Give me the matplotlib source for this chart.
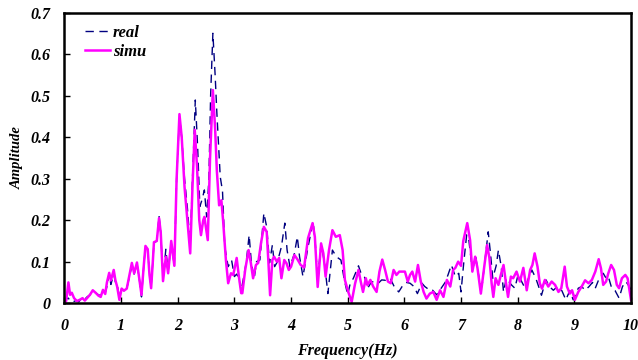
import matplotlib
matplotlib.use("Agg")
import matplotlib.pyplot as plt

# ---- data ----
freq_real = [0.00, 0.03, 0.07, 0.10, 0.15, 0.20, 0.25, 0.30, 0.35, 0.40, 0.45, 0.50, 0.55, 0.60, 0.64,
             0.68, 0.72, 0.76, 0.79, 0.82, 0.87, 0.90, 0.93, 0.97, 1.01, 1.05, 1.10, 1.15, 1.19, 1.23,
             1.28, 1.32, 1.36, 1.40, 1.43, 1.47, 1.50, 1.53, 1.56, 1.58, 1.63, 1.67, 1.70, 1.74, 1.79,
             1.83, 1.885, 1.94, 1.98, 2.03, 2.07, 2.12, 2.17, 2.22, 2.26, 2.31, 2.35, 2.39, 2.43, 2.47,
             2.51, 2.55, 2.58, 2.62, 2.66, 2.69, 2.75, 2.79, 2.83, 2.89, 2.95, 3.00, 3.04, 3.08, 3.12,
             3.16, 3.21, 3.26, 3.30, 3.35, 3.39, 3.45, 3.52, 3.57, 3.62, 3.67, 3.71, 3.76, 3.83, 3.89,
             3.93, 3.98, 4.06, 4.11, 4.15, 4.21, 4.30, 4.39, 4.43, 4.47, 4.53, 4.59, 4.65, 4.73, 4.80,
             4.88, 4.94, 5.00, 5.04, 5.10, 5.19, 5.24, 5.30, 5.35, 5.42, 5.48, 5.54, 5.60, 5.67, 5.75,
             5.82, 5.90, 5.96, 6.03, 6.10, 6.17, 6.23, 6.31, 6.36, 6.40, 6.45, 6.50, 6.57, 6.65, 6.72,
             6.77, 6.83, 6.90, 6.96, 7.00, 7.05, 7.10, 7.14, 7.20, 7.26, 7.32, 7.37, 7.42, 7.48, 7.52,
             7.56, 7.62, 7.66, 7.71, 7.75, 7.80, 7.89, 7.95, 8.01, 8.07, 8.13, 8.19, 8.25, 8.32, 8.37,
             8.42, 8.50, 8.56, 8.63, 8.70, 8.78, 8.85, 8.92, 8.98, 9.07, 9.13, 9.19, 9.26, 9.32, 9.37,
             9.44, 9.51, 9.56, 9.60, 9.66, 9.72, 9.79, 9.85, 9.91, 9.97, 10.0]
amp_real = [0.000, 0.010, 0.012, 0.005, 0.003, 0.006, 0.003, 0.010, 0.008, 0.015, 0.020, 0.030, 0.025, 0.020, 0.018,
            0.030, 0.025, 0.045, 0.070, 0.045, 0.070, 0.050, 0.045, 0.015, 0.035, 0.030, 0.035, 0.065, 0.090, 0.070,
            0.095, 0.060, 0.015, 0.090, 0.135, 0.130, 0.070, 0.040, 0.100, 0.145, 0.150, 0.210, 0.170, 0.060, 0.130,
            0.075, 0.145, 0.090, 0.300, 0.450, 0.400, 0.300, 0.230, 0.140, 0.300, 0.490, 0.380, 0.233, 0.250, 0.273,
            0.208, 0.300, 0.500, 0.651, 0.550, 0.460, 0.305, 0.270, 0.136, 0.088, 0.104, 0.064, 0.070, 0.060, 0.030,
            0.060, 0.100, 0.164, 0.097, 0.060, 0.100, 0.104, 0.217, 0.184, 0.097, 0.140, 0.088, 0.100, 0.136, 0.193,
            0.128, 0.088, 0.120, 0.160, 0.112, 0.064, 0.136, 0.196, 0.140, 0.056, 0.144, 0.097, 0.023, 0.128, 0.112,
            0.104, 0.056, 0.020, 0.045, 0.060, 0.090, 0.070, 0.062, 0.035, 0.052, 0.050, 0.048, 0.056, 0.055, 0.060,
            0.040, 0.027, 0.040, 0.050, 0.048, 0.040, 0.023, 0.048, 0.040, 0.036, 0.030, 0.031, 0.020, 0.036, 0.050,
            0.068, 0.092, 0.064, 0.072, 0.027, 0.100, 0.165, 0.150, 0.080, 0.110, 0.060, 0.040, 0.100, 0.172, 0.120,
            0.060, 0.090, 0.128, 0.088, 0.027, 0.060, 0.044, 0.036, 0.070, 0.052, 0.036, 0.060, 0.080, 0.060, 0.040,
            0.019, 0.056, 0.040, 0.031, 0.040, 0.030, 0.008, 0.030, 0.008, 0.036, 0.040, 0.031, 0.040, 0.050, 0.036,
            0.060, 0.072, 0.060, 0.064, 0.036, 0.030, 0.012, 0.040, 0.052, 0.040, 0.030]

freq_simu = [0.00, 0.03, 0.07, 0.10, 0.13, 0.17, 0.22, 0.27, 0.32, 0.36, 0.41, 0.45, 0.50, 0.55, 0.60,
             0.64, 0.68, 0.72, 0.75, 0.79, 0.82, 0.87, 0.90, 0.93, 0.97, 1.01, 1.05, 1.10, 1.15, 1.19,
             1.23, 1.28, 1.32, 1.36, 1.40, 1.43, 1.47, 1.50, 1.53, 1.56, 1.58, 1.63, 1.67, 1.70, 1.74,
             1.79, 1.83, 1.885, 1.94, 1.98, 2.03, 2.07, 2.12, 2.17, 2.22, 2.26, 2.30, 2.34, 2.38, 2.41,
             2.45, 2.47, 2.50, 2.53, 2.57, 2.62, 2.66, 2.69, 2.73, 2.77, 2.80, 2.85, 2.89, 2.94, 2.98,
             3.04, 3.08, 3.12, 3.14, 3.19, 3.25, 3.29, 3.33, 3.38, 3.42, 3.47, 3.52, 3.57, 3.60, 3.63,
             3.67, 3.70, 3.75, 3.79, 3.83, 3.88, 3.92, 3.96, 4.00, 4.06, 4.12, 4.17, 4.23, 4.30, 4.38,
             4.42, 4.47, 4.53, 4.57, 4.61, 4.67, 4.73, 4.79, 4.86, 4.91, 4.95, 5.01, 5.07, 5.13, 5.19,
             5.23, 5.27, 5.32, 5.35, 5.40, 5.45, 5.51, 5.56, 5.61, 5.66, 5.71, 5.76, 5.81, 5.86, 5.91,
             5.96, 6.01, 6.06, 6.10, 6.14, 6.19, 6.24, 6.29, 6.34, 6.39, 6.45, 6.51, 6.57, 6.63, 6.69,
             6.75, 6.81, 6.86, 6.90, 6.95, 7.00, 7.04, 7.11, 7.16, 7.20, 7.25, 7.29, 7.35, 7.41, 7.46,
             7.50, 7.54, 7.57, 7.61, 7.66, 7.71, 7.75, 7.79, 7.83, 7.88, 7.92, 7.98, 8.04, 8.10, 8.16,
             8.22, 8.26, 8.30, 8.35, 8.39, 8.43, 8.48, 8.54, 8.60, 8.66, 8.72, 8.77, 8.83, 8.87, 8.92,
             8.96, 9.01, 9.07, 9.13, 9.19, 9.25, 9.31, 9.37, 9.43, 9.47, 9.51, 9.56, 9.60, 9.65, 9.70,
             9.75, 9.79, 9.84, 9.90, 9.94, 10.0]
amp_simu = [0.000, 0.005, 0.050, 0.020, 0.025, 0.012, 0.005, 0.008, 0.012, 0.006, 0.014, 0.020, 0.031, 0.025, 0.018,
            0.015, 0.032, 0.022, 0.050, 0.073, 0.055, 0.080, 0.055, 0.040, 0.008, 0.035, 0.030, 0.035, 0.070, 0.097,
            0.072, 0.098, 0.060, 0.020, 0.090, 0.138, 0.130, 0.070, 0.036, 0.100, 0.147, 0.150, 0.205, 0.170, 0.053,
            0.112, 0.072, 0.150, 0.090, 0.300, 0.456, 0.400, 0.280, 0.200, 0.120, 0.280, 0.418, 0.330, 0.200, 0.164,
            0.200, 0.208, 0.180, 0.152, 0.350, 0.514, 0.420, 0.320, 0.236, 0.248, 0.200, 0.104, 0.048, 0.072, 0.068,
            0.109, 0.063, 0.024, 0.024, 0.080, 0.128, 0.097, 0.060, 0.092, 0.097, 0.145, 0.184, 0.172, 0.100, 0.019,
            0.104, 0.112, 0.100, 0.109, 0.060, 0.104, 0.096, 0.080, 0.088, 0.116, 0.104, 0.092, 0.086, 0.157, 0.193,
            0.160, 0.039, 0.144, 0.120, 0.064, 0.128, 0.176, 0.160, 0.164, 0.128, 0.056, 0.027, 0.003, 0.047, 0.080,
            0.052, 0.027, 0.060, 0.043, 0.056, 0.040, 0.027, 0.076, 0.105, 0.080, 0.052, 0.048, 0.080, 0.068, 0.076,
            0.076, 0.076, 0.052, 0.068, 0.076, 0.052, 0.092, 0.052, 0.027, 0.011, 0.023, 0.027, 0.008, 0.031, 0.015,
            0.056, 0.040, 0.080, 0.085, 0.100, 0.090, 0.150, 0.193, 0.152, 0.076, 0.112, 0.085, 0.023, 0.088, 0.140,
            0.110, 0.048, 0.015, 0.060, 0.044, 0.072, 0.092, 0.052, 0.015, 0.064, 0.060, 0.076, 0.052, 0.085, 0.031,
            0.080, 0.092, 0.120, 0.088, 0.048, 0.035, 0.056, 0.040, 0.052, 0.044, 0.027, 0.036, 0.088, 0.040, 0.023,
            0.031, 0.008, 0.027, 0.040, 0.055, 0.048, 0.056, 0.076, 0.106, 0.084, 0.044, 0.052, 0.072, 0.092, 0.080,
            0.044, 0.036, 0.060, 0.068, 0.060, 0.008]

x_ticks = [0, 1, 2, 3, 4, 5, 6, 7, 8, 9, 10]
y_ticks = [0, 0.1, 0.2, 0.3, 0.4, 0.5, 0.6, 0.7]
y_tick_labels = ["0", "0.1", "0.2", "0.3", "0.4", "0.5", "0.6", "0.7"]

SERIF = ["Liberation Serif", "DejaVu Serif"]
font = dict(family=SERIF, weight="bold", style="italic")

fig = plt.figure(figsize=(6.38, 3.6), dpi=100)
ax = fig.add_axes([0.101, 0.158, 0.888, 0.806])

ax.plot(freq_real, amp_real, color="#000080", lw=1.0, ls=(0, (6, 4)), label="real")
ax.plot(freq_simu, amp_simu, color="#FF00FF", lw=1.8, label="simu")

ax.set_xlim(0, 10)
ax.set_ylim(0, 0.7)
ax.set_xticks(x_ticks)
ax.set_yticks(y_ticks)
ax.set_yticklabels(y_tick_labels)
ax.tick_params(direction="in", length=4, width=1)
ax.tick_params(axis="x", pad=11)
ax.tick_params(axis="y", pad=10)
for lab in ax.get_xticklabels() + ax.get_yticklabels():
    lab.set_fontfamily(SERIF)
    lab.set_fontweight("bold")
    lab.set_fontstyle("italic")
    lab.set_fontsize(11.5)
for sp in ax.spines.values():
    sp.set_linewidth(1.8)
    sp.set_color("black")

ax.set_xlabel("Frequency(Hz)", fontsize=11.5, labelpad=6, **font)
ax.set_ylabel("Amplitude", fontsize=10.5, labelpad=5, **font)

leg = ax.legend(loc="upper left", bbox_to_anchor=(0.024, 0.983), frameon=False,
                handlelength=1.5, handletextpad=0.2, labelspacing=0.2, borderaxespad=0,
                prop=dict(family=SERIF, weight="bold", style="italic", size=12))

fig.savefig("out.png", dpi=100)
